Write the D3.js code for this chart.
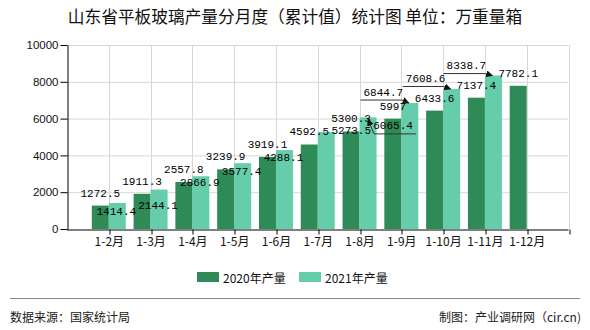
<!DOCTYPE html>
<html><head><meta charset="utf-8">
<script src="https://cdn.jsdelivr.net/npm/d3@7"></script>
<style>
body{margin:0;background:#fff;}
svg{display:block;font-family:"Liberation Sans",Arial,sans-serif;}
</style></head><body>
<svg id="c" width="590" height="330"></svg>
<script>
const categories = ["1-2月","1-3月","1-4月","1-5月","1-6月","1-7月","1-8月","1-9月","1-10月","1-11月","1-12月"];
const values2020 = [1272.5,1911.3,2557.8,3239.9,3919.1,4592.5,5300.3,5997,6433.6,7137.4,7782.1];
const values2021 = [1414.4,2144.1,2866.9,3577.4,4288.1,5273.5,6065.4,6844.7,7608.6,8338.7];
const yTicks = [0,2000,4000,6000,8000,10000];
const seriesNames = ["2020年产量","2021年产量"];
const colors = ["#2e8b57","#66cdaa"];
const title = "山东省平板玻璃产量分月度（累计值）统计图 单位：万重量箱";

// label layout adjustments for 2021 labels (offset of label centre from bar centre/top)
const nudge2021 = [
  {dx:-1,dy:9},{dx:-1,dy:16},{dx:-1,dy:7},{dx:-1,dy:9},{dx:-1,dy:8},
  {dx:25,dy:-1},{dx:25,dy:9,lead:"right"},{dx:-26.5,dy:-10.5,lead:"left"},
  {dx:-26,dy:-10,lead:"left"},{dx:-27,dy:-9.5,lead:"left"}
];

const svg = d3.select("#c");
const L = 67, R = 568.5, T = 45, B = 229, bw = 17;
const x = d3.scalePoint().domain(["_s",...categories,"_e"]).range([L,R]);
const y = d3.scaleLinear().domain([0,10000]).range([B,T]);

// title
svg.append("text").attr("x",295).attr("y",23).attr("text-anchor","middle")
  .attr("font-family","'Noto Sans CJK SC',sans-serif").attr("font-size",16.7).attr("fill","#111").text(title);

// grid
const g = svg.append("g");
g.selectAll(".hg").data(yTicks.filter(d=>d>0)).join("line")
  .attr("x1",L).attr("x2",R).attr("y1",d=>y(d)+0.5).attr("y2",d=>y(d)+0.5)
  .attr("stroke","#d8d8d8").attr("stroke-width",1);
g.selectAll(".vg").data([...categories,"_e"]).join("line")
  .attr("x1",d=>Math.round(x(d))+0.5).attr("x2",d=>Math.round(x(d))+0.5).attr("y1",T).attr("y2",B)
  .attr("stroke","#d8d8d8").attr("stroke-width",1);

// bars
svg.append("g").selectAll("rect").data(values2020).join("rect")
  .attr("x",(d,i)=>x(categories[i])-bw).attr("width",bw)
  .attr("y",d=>y(d)).attr("height",d=>B-y(d)).attr("fill",colors[0]);
svg.append("g").selectAll("rect").data(values2021).join("rect")
  .attr("x",(d,i)=>x(categories[i])).attr("width",bw)
  .attr("y",d=>y(d)).attr("height",d=>B-y(d)).attr("fill",colors[1]);

// axes
const ya = svg.append("g").attr("transform",`translate(${L+0.5},0)`)
  .call(d3.axisLeft(y).tickValues(yTicks).tickSize(7).tickSizeOuter(0).tickPadding(2).tickFormat(d3.format("d")));
ya.selectAll("text").attr("font-size",11.5).attr("fill","#111").attr("font-family","'Liberation Sans',Arial,sans-serif");
ya.selectAll("line,path").attr("stroke","#000");
const xa = svg.append("g").attr("transform",`translate(0,${B+0.5})`)
  .call(d3.axisBottom(x).tickValues([...categories,"_e"]).tickSize(5).tickSizeOuter(0).tickPadding(3).tickFormat(d=>d==="_e"?"":d));
xa.select(".domain").attr("d",`M${L},0.5H${R}`);
xa.selectAll("text").attr("font-size",12).attr("fill","#111").attr("font-family","'Noto Sans CJK SC',sans-serif");
xa.selectAll("line,path").attr("stroke","#000");
xa.selectAll(".tick line").attr("transform",d=>`translate(${Math.round(x(d))+0.5-x(d)},0)`);

// value labels
const lf = "'Liberation Mono','DejaVu Sans Mono',monospace";
const lfs = 11;
svg.append("g").selectAll("text").data(values2020).join("text")
  .attr("x",(d,i)=>x(categories[i])-bw/2).attr("y",d=>y(d)-12)
  .attr("text-anchor","middle").attr("dominant-baseline","central")
  .attr("font-family",lf).attr("font-size",lfs).attr("fill","#000").text(d=>d3.format(".1f")(d).replace(/\.0$/,""));

const defs = svg.append("defs");
defs.append("marker").attr("id","arr").attr("viewBox","0 0 10 10").attr("refX",9).attr("refY",5)
  .attr("markerWidth",7).attr("markerHeight",7).attr("orient","auto")
  .append("path").attr("d","M0,0L10,5L0,10z").attr("fill","#111");

const lg = svg.append("g");
values2021.forEach((v,i)=>{
  const cx = x(categories[i])+bw/2, top = y(v), n = nudge2021[i];
  const lx = cx+n.dx, ly = top+n.dy;
  const t = lg.append("text").attr("x",lx).attr("y",ly).attr("text-anchor","middle").attr("dominant-baseline","central")
    .attr("font-family",lf).attr("font-size",lfs).attr("fill","#000").text(d3.format(".1f")(v));
  const w = t.node().getComputedTextLength();
  const uy = ly+7.5;
  if(n.lead==="left"){
    const tipX = cx-1, tipY = top;
    lg.append("path").attr("d",`M${lx-w/2-3},${uy}H${tipX-7}L${tipX},${tipY}`)
      .attr("fill","none").attr("stroke","#333").attr("stroke-width",1).attr("marker-end","url(#arr)");
  } else if(n.lead==="right"){
    const tipX = cx, tipY = top+2;
    lg.append("path").attr("d",`M${lx+w/2+3},${uy}H${tipX+6}L${tipX},${tipY}`)
      .attr("fill","none").attr("stroke","#333").attr("stroke-width",1).attr("marker-end","url(#arr)");
  }
});

// legend
const leg = svg.append("g");
const legX = [197,299];
seriesNames.forEach((s,i)=>{
  leg.append("rect").attr("x",legX[i]).attr("y",272).attr("width",22).attr("height",10).attr("fill",colors[i]);
  leg.append("text").attr("x",legX[i]+26).attr("y",277).attr("dominant-baseline","central")
    .attr("font-family","'Noto Sans CJK SC',sans-serif").attr("font-size",12).attr("fill","#111").text(s);
});

// footer
svg.append("line").attr("x1",10).attr("x2",580).attr("y1",298.5).attr("y2",298.5).attr("stroke","#888");
svg.append("text").attr("x",10).attr("y",316).attr("dominant-baseline","central")
  .attr("font-family","'Noto Sans CJK SC',sans-serif").attr("font-size",12).attr("fill","#222").text("数据来源：国家统计局");
svg.append("text").attr("x",581).attr("y",316).attr("text-anchor","end").attr("dominant-baseline","central")
  .attr("font-family","'Noto Sans CJK SC',sans-serif").attr("font-size",12).attr("fill","#222").text("制图：产业调研网（cir.cn)");
</script>
</body></html>
